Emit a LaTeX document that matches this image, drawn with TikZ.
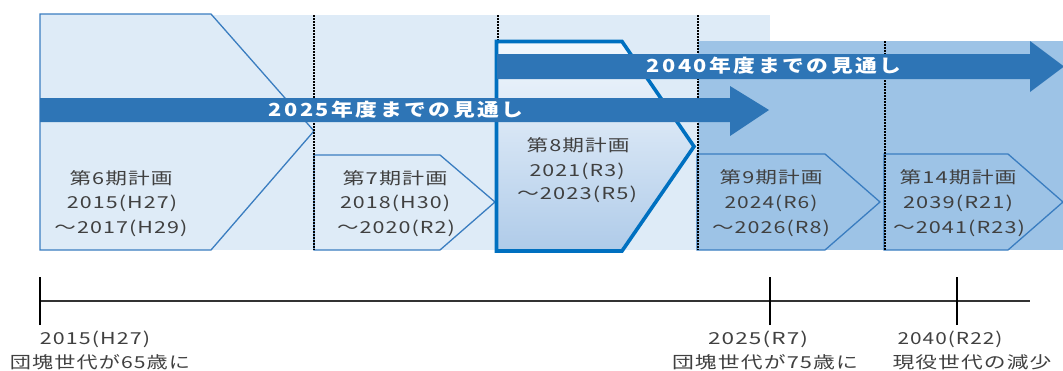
\documentclass[tikz,border=0pt]{standalone}
\usepackage{fontspec}
\usepackage{graphicx}
\newfontfamily\jp{Noto Sans CJK JP}[FakeStretch=1.2,LetterSpace=6]
\newfontfamily\jph{Noto Sans CJK JP}[FakeStretch=1.2,LetterSpace=14]
\newcommand\fw[2]{\resizebox{#1pt}{\height}{#2}}
\definecolor{bglight}{HTML}{DEEBF7}
\definecolor{bgdark}{HTML}{9DC3E6}
\definecolor{arrowblue}{HTML}{2E75B6}
\definecolor{planedge}{HTML}{3A7DC0}
\definecolor{planedgeb}{HTML}{0070C0}
\definecolor{grtop}{HTML}{F3F8FD}
\definecolor{grbot}{HTML}{AFCBE9}
\definecolor{txt}{HTML}{404040}
\begin{document}
\begin{tikzpicture}[x=1pt,y=-1pt,
  planbox/.style={draw=planedge,line width=1.3pt,line join=miter},
  planboxb/.style={draw=planedgeb,line width=3.6pt,line join=miter,top color=grtop,bottom color=grbot},
  plantext/.style={anchor=base,inner sep=0pt,text=txt,font=\jp\fontsize{16.5}{18}\selectfont},
  headtext/.style={anchor=base,inner sep=0pt,text=white,font=\jph\bfseries\fontsize{18}{20}\selectfont},
  sepline/.style={black,line width=1.5pt,dash pattern=on 1.5pt off 1.5pt},
  bigarrow/.style={fill=arrowblue},
  tickmark/.style={black,line width=2pt},
  axisline/.style={draw=black!80,line width=1.2pt}]
\useasboundingbox (0,0) rectangle (1063,370);
% backgrounds
\fill[bglight] (40,15) rectangle (770,250);
\fill[bgdark] (698,41) rectangle (1063,250);
% plans
\draw[planbox,fill=bglight] (40,14) -- (211,14) -- (314,131) -- (211,250) -- (40,250) -- cycle;
\draw[planbox,fill=bglight] (314,155) -- (440,155) -- (495,202) -- (440,250) -- (314,250) -- cycle;
\draw[planbox,fill=bgdark] (697,154) -- (825,154) -- (880,202) -- (825,250) -- (697,250) -- cycle;
\draw[planbox,fill=bgdark] (884,154) -- (1008,154) -- (1063,202) -- (1008,250) -- (884,250) -- cycle;
% separators
\draw[sepline] (314,15) -- (314,250);
\draw[sepline] (498,15) -- (498,250);
\draw[sepline] (698,15) -- (698,250);
\draw[sepline] (885,41) -- (885,250);
% plan 8
\draw[planboxb] (496.5,41.5) -- (622,41.5) -- (694,146.5) -- (622,251) -- (496.5,251) -- cycle;
% arrows
\fill[bigarrow] (40,98) -- (730,98) -- (730,86) -- (769,110) -- (730,136) -- (730,122) -- (40,122) -- cycle;
\fill[bigarrow] (497,54) -- (1030,54) -- (1030,41) -- (1064,66.5) -- (1030,92) -- (1030,79) -- (497,79) -- cycle;
\node[headtext] (h25) at (396,116.5) {\fw{255}{2025年度までの見通し}};
\node[headtext] (h40) at (774,72.5) {\fw{255}{2040年度までの見通し}};
% plan texts
\node[plantext] (p6a) at (121,184) {\fw{103}{第6期計画}};
\node[plantext] (p6b) at (122,208) {\fw{110}{2015(H27)}};
\node[plantext] (p6c) at (121,233) {\fw{133}{～2017(H29)}};
\node[plantext] (p7a) at (395,184) {\fw{105}{第7期計画}};
\node[plantext] (p7b) at (395,208) {\fw{110}{2018(H30)}};
\node[plantext] (p7c) at (396,233) {\fw{118}{～2020(R2)}};
\node[plantext] (p8a) at (578,151) {\fw{103}{第8期計画}};
\node[plantext] (p8b) at (577,176) {\fw{95}{2021(R3)}};
\node[plantext] (p8c) at (577,199) {\fw{120}{～2023(R5)}};
\node[plantext] (p9a) at (771,183) {\fw{103}{第9期計画}};
\node[plantext] (p9b) at (771,208) {\fw{93}{2024(R6)}};
\node[plantext] (p9c) at (771,233) {\fw{118}{～2026(R8)}};
\node[plantext] (p14a) at (958,183) {\fw{117}{第14期計画}};
\node[plantext] (p14b) at (958,208) {\fw{110}{2039(R21)}};
\node[plantext] (p14c) at (959,233) {\fw{132}{～2041(R23)}};
% timeline
\coordinate (t0) at (40,301);
\coordinate (tend) at (1030,301);
\coordinate (t25) at (770,301);
\coordinate (t40) at (957,301);
\draw[axisline] (t0) -- (tend);
\draw[tickmark] ([yshift=-24pt]t0) -- ([yshift=24pt]t0);
\draw[tickmark] ([yshift=-24pt]t25) -- ([yshift=24pt]t25);
\draw[tickmark] ([yshift=-24pt]t40) -- ([yshift=24pt]t40);
\node[plantext] (l15a) at (95,344) {\fw{110}{2015(H27)}};
\node[plantext] (l15b) at (100,368) {\fw{180}{団塊世代が65歳に}};
\node[plantext] (l25a) at (758,344) {\fw{100}{2025(R7)}};
\node[plantext] (l25b) at (765,368) {\fw{186}{団塊世代が75歳に}};
\node[plantext] (l40a) at (950,344) {\fw{105}{2040(R22)}};
\node[plantext] (l40b) at (972,368) {\fw{159}{現役世代の減少}};
\end{tikzpicture}
\end{document}
